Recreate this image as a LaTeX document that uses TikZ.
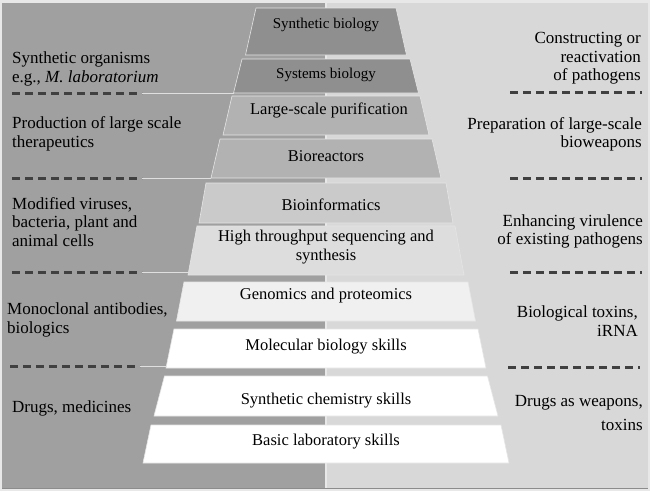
\documentclass[tikz,border=0pt]{standalone}
\usepackage{fontspec}
\setmainfont{Liberation Serif}
\definecolor{framecol}{HTML}{E8E8E8}
\definecolor{leftpanel}{HTML}{A0A0A0}
\definecolor{rightpanel}{HTML}{D8D8D8}
\definecolor{dashgray}{HTML}{404040}
\definecolor{layA}{HTML}{8F8F8F}
\definecolor{layB}{HTML}{B2B2B2}
\definecolor{layC}{HTML}{CACACA}
\definecolor{layD}{HTML}{DDDDDD}
\definecolor{layE}{HTML}{F0F0F0}

\begin{document}
\begin{tikzpicture}[x=1pt,y=-1pt,
  layer/.style={draw=white!80!gray,line width=0.6pt},
  laytext/.style={font=\fontsize{16.5}{19}\selectfont,align=center,inner sep=0pt,text=black},
  toptext/.style={font=\fontsize{15}{17}\selectfont,inner sep=0pt,text=black},
  sidetext/.style={font=\fontsize{17}{18.5}\selectfont,inner sep=0pt,text=black},
  cut/.style={dash pattern=on 8pt off 5pt,line width=3pt,draw=dashgray},
  cutline/.style={draw=white!75!gray,line width=0.5pt}]
\useasboundingbox (0,0) rectangle (650,491);
% panels
\fill[framecol] (0,0) rectangle (650,491);
\fill[leftpanel] (2,3) rectangle (325,488);
\fill[rightpanel] (327,3) rectangle (648,488);
\draw[gray!90,line width=0.8pt] (2,488.5) -- (648,488.5);
% pyramid layers
\filldraw[layer,fill=layA] (256,8) -- (396,8) -- (406.5,55) -- (245.5,55) -- cycle;
\filldraw[layer,fill=layA] (242,59) -- (410,59) -- (418.5,93) -- (233.5,93) -- cycle;
\filldraw[layer,fill=layB] (232,96) -- (420,96) -- (429,135) -- (223,135) -- cycle;
\filldraw[layer,fill=layB] (220,139) -- (432,139) -- (441,178) -- (211,178) -- cycle;
\filldraw[layer,fill=layC] (206,183) -- (446,183) -- (453,223) -- (199,223) -- cycle;
\filldraw[layer,fill=layD] (197,226) -- (455,226) -- (464,275) -- (188,275) -- cycle;
\filldraw[layer,fill=layE] (184,282) -- (468,282) -- (475.5,321) -- (176.5,321) -- cycle;
\filldraw[layer,fill=white] (174,329) -- (478,329) -- (486,368) -- (166,368) -- cycle;
\filldraw[layer,fill=white] (164.5,376) -- (487.5,376) -- (498,416) -- (154,416) -- cycle;
\filldraw[layer,fill=white] (151,425) -- (501,425) -- (509,463) -- (143,463) -- cycle;
% layer texts
\node[toptext] (synbio) at (326,25) {Synthetic biology};
\node[toptext] (sysbio) at (326,75) {Systems biology};
\node[laytext] (purif) at (329,110) {Large-scale purification};
\node[laytext] (bioreact) at (326,156) {Bioreactors};
\node[laytext] (bioinf) at (331,205) {Bioinformatics};
\node[laytext] (htseq) at (326,247) {High throughput sequencing and\\ synthesis};
\node[laytext] (genom) at (326,296) {Genomics and proteomics};
\node[laytext] (molbio) at (326,347) {Molecular biology skills};
\node[laytext] (synchem) at (326,401) {Synthetic chemistry skills};
\node[laytext] (basiclab) at (326,442) {Basic laboratory skills};
% separators
\draw[cut] (12,93) -- (142,93);
\draw[cut] (12,178) -- (142,178);
\draw[cut] (12,272) -- (142,272);
\draw[cut] (10,366) -- (140,366);
\draw[cutline] (142,93.5) -- (233.5,93.5);
\draw[cutline] (142,178.5) -- (211,178.5);
\draw[cutline] (142,272.5) -- (189,272.5);
\draw[cutline] (140,366.5) -- (166,366.5);
\draw[cut] (510,92) -- (642,92);
\draw[cut] (510,178) -- (642,178);
\draw[cut] (510,272) -- (642,272);
\draw[cut] (508,367) -- (640,367);
% left texts
\node[sidetext,anchor=west,align=left] (orgL) at (12,69) {Synthetic organisms\\ e.g., \textit{M. laboratorium}};
\node[sidetext,anchor=west,align=left] (therL) at (12,134) {Production of large scale\\ therapeutics};
\node[sidetext,anchor=west,align=left] (cellsL) at (12,222) {Modified viruses,\\ bacteria, plant and\\ animal cells};
\node[sidetext,anchor=west,align=left] (monoL) at (7,320) {Monoclonal antibodies,\\ biologics};
\node[sidetext,anchor=west,align=left] (drugL) at (12,408) {Drugs, medicines};
% right texts
\node[sidetext,anchor=east,align=right] (pathR) at (641,58.5) {Constructing or\\ reactivation\\ of pathogens};
\node[sidetext,anchor=east,align=right] (weapR) at (642,134.5) {Preparation of large-scale\\ bioweapons};
\node[sidetext,anchor=east,align=right] (virR) at (643,231.5) {Enhancing virulence\\ of existing pathogens};
\node[sidetext,anchor=east,align=right] (toxR) at (638,321) {Biological toxins,\\ iRNA};
\node[sidetext,anchor=east,align=right] (drugR) at (643,413) {Drugs as weapons,\\[5pt] toxins};
\end{tikzpicture}
\end{document}
